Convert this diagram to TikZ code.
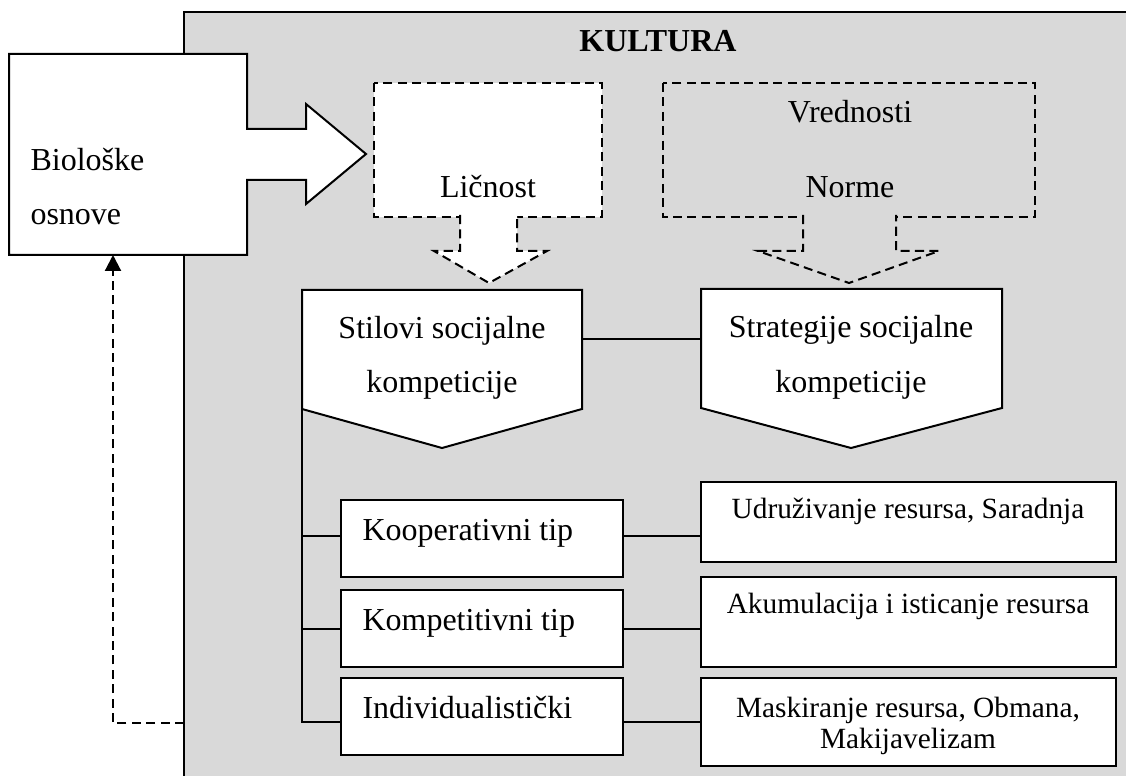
\documentclass[tikz,border=0pt]{standalone}
\usepackage{fontspec}
\setmainfont{Liberation Serif}
\usetikzlibrary{arrows.meta,fit}
\definecolor{kulturagray}{RGB}{217,217,217}
\tikzset{
	box/.style={draw, fill=white, line width=0.75pt, inner sep=0pt},
	dashbox/.style={draw, line width=0.75pt, dash pattern=on 3.4pt off 2pt},
	link/.style={line width=0.7pt},
	txt/.style={anchor=base, inner sep=0pt, font=\fontsize{12}{14}\selectfont},
	stxt/.style={anchor=base, inner sep=0pt, font=\fontsize{11}{13}\selectfont}
}

\begin{document}
\begin{tikzpicture}[x=0.375pt, y=-0.375pt]
					\clip (0,0) rectangle (1126,776);
					\node[box, fill=kulturagray, fit={(184,12) (1140,790)}] (kultura) {};
					\node[txt, font=\fontsize{12}{14}\selectfont\bfseries] (kulturatxt) at (658,52) {KULTURA};
					\draw[box] (9,54) -- (247,54) -- (247,129) -- (306,129) -- (306,104) -- (366,154) -- (306,204) -- (306,180) -- (247,180) -- (247,255) -- (9,255) -- cycle;
					\coordinate (bio) at (113,255);
					\node[txt, anchor=base west] (bio1) at (30,171) {Biološke};
					\node[txt, anchor=base west] (bio2) at (30,225) {osnove};
					\draw[dashbox, fill=white] (374,83) rectangle (602,217);
					\filldraw[dashbox, fill=white] (460,215) -- (460,251) -- (434,251) -- (489,283) -- (547,251) -- (517,251) -- (517,215);
					\node[txt] (licnost) at (488,198) {Ličnost};
					\draw[dashbox] (663,83) rectangle (1035,217);
					\filldraw[dashbox, fill=kulturagray] (803,215) -- (803,251) -- (758,251) -- (849,283) -- (939,251) -- (896,251) -- (896,215);
					\node[txt] (vred) at (850,123) {Vrednosti};
					\node[txt] (norme) at (850,198) {Norme};
					\draw[box] (302,290) -- (582,290) -- (582,409) -- (442,448) -- (302,409) -- cycle;
					\draw[box] (701,289) -- (1002,289) -- (1002,408) -- (851,448) -- (701,408) -- cycle;
					\coordinate (stil-e) at (582,339);
					\coordinate (stil-sw) at (302,409);
					\coordinate (strat-w) at (701,339);
					\node[txt] (stil1) at (442,339) {Stilovi socijalne};
					\node[txt] (stil2) at (442,393) {kompeticije};
					\node[txt] (strat1) at (851,338) {Strategije socijalne};
					\node[txt] (strat2) at (851,393) {kompeticije};
					\draw[link] (stil-e) -- (strat-w);
					\foreach \n/\t/\y in {koop/Kooperativni tip/500, komp/Kompetitivni tip/590, indiv/Individualistički/678}{
						\node[box, fit={(341,\y) (623,\y+77)}] (\n) {};
						\node[txt, anchor=base west] (\n-txt) at (362,\y+40) {\t};
					}
					\node[box, fit={(701,482) (1116,562)}] (udr) {};
					\node[box, fit={(701,577) (1116,667)}] (akum) {};
					\node[box, fit={(701,678) (1116,766)}] (mask) {};
					\node[stxt] (udr-txt) at (908,518) {Udruživanje resursa, Saradnja};
					\node[stxt] (akum-txt) at (908,613) {Akumulacija i isticanje resursa};
					\node[stxt] (mask1) at (908,717) {Maskiranje resursa, Obmana,};
					\node[stxt] (mask2) at (908,748) {Makijavelizam};
					\draw[link] (stil-sw) |- ([yshift=0.94pt]koop.west);
					\draw[link] (stil-sw) |- ([yshift=-0.19pt]komp.west);
					\draw[link] (stil-sw) |- ([yshift=-2.06pt]indiv.west);
					\draw[link] ([yshift=0.94pt]koop.east) -- ([yshift=0.94pt]koop.east -| udr.west);
					\draw[link] ([yshift=-0.19pt]komp.east) -- ([yshift=-0.19pt]komp.east -| akum.west);
					\draw[link] ([yshift=-2.06pt]indiv.east) -- (mask.west);
					\coordinate (ret) at (184,723);
					\draw[line width=0.8pt, dash pattern=on 3.4pt off 2pt, -{Triangle[length=6pt,width=6pt]}] (ret) -| (bio);
				\end{tikzpicture}
\end{document}
